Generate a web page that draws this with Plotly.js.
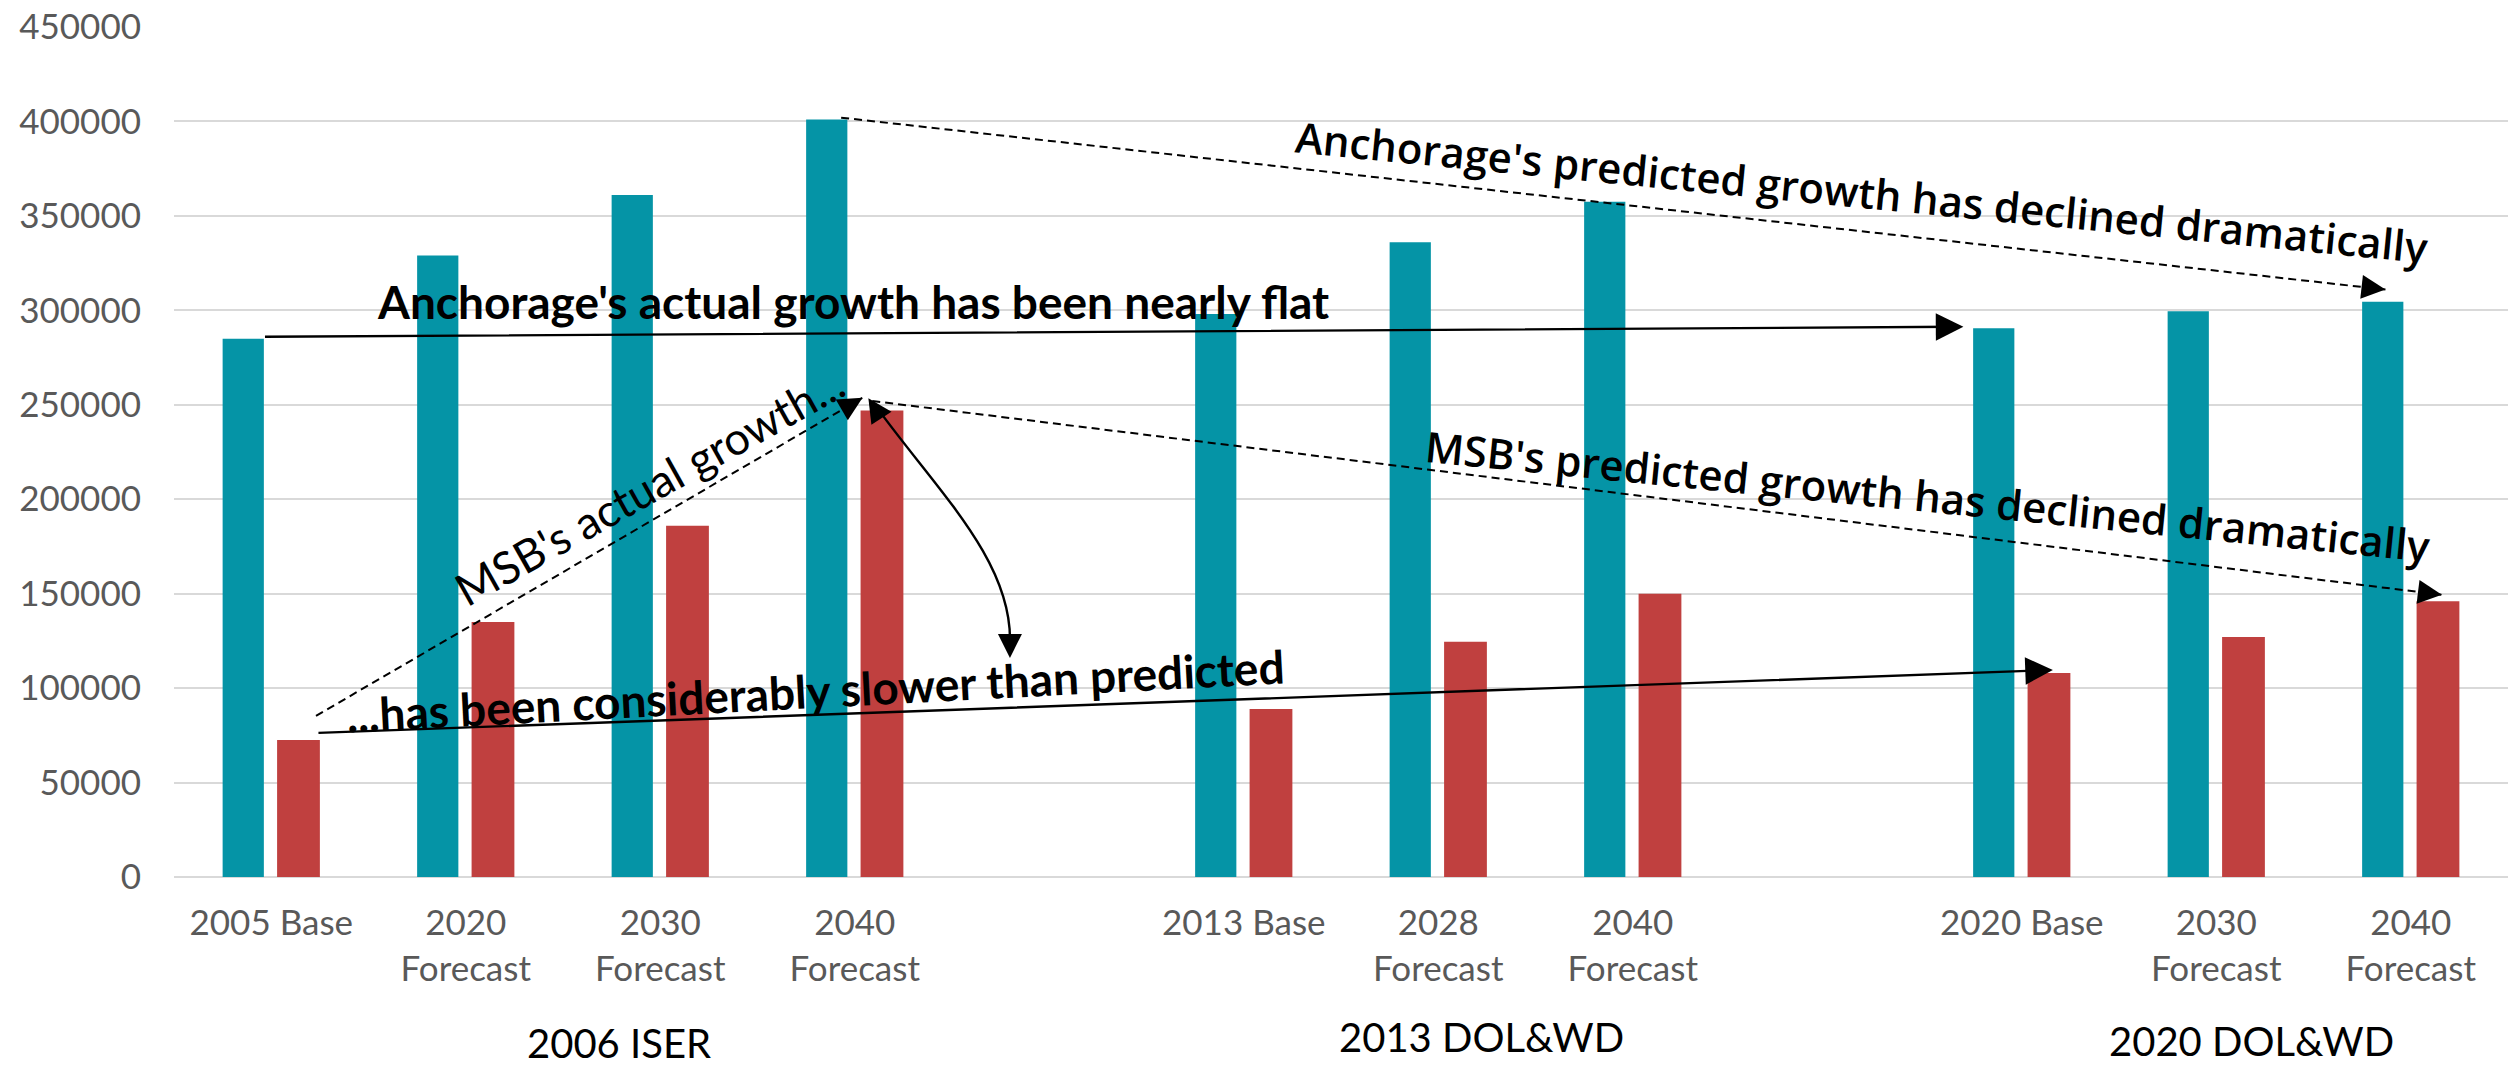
<!DOCTYPE html>
<html><head><meta charset="utf-8">
<script src="https://cdn.plot.ly/plotly-3.0.1.min.js"></script>
<style>html,body{margin:0;padding:0;background:#fff}#chart{width:2509px;height:1067px}</style>
</head><body><div id="chart"></div>
<script>
// ---- data ----
const categories = ["2005 Base","2020<br>Forecast","2030<br>Forecast","2040<br>Forecast",
                    "2013 Base","2028<br>Forecast","2040<br>Forecast",
                    "2020 Base","2030<br>Forecast","2040<br>Forecast"];
const groupIndex = [0,0,0,0,1,1,1,2,2,2];
const groups = ["2006 ISER","2013 DOL&WD","2020 DOL&WD"];
const anchorage = [285000,329000,361000,401000,298000,336000,357500,290500,299500,304500];
const msb = [72500,135000,186000,247000,89000,124500,150000,108000,127000,146000];
const yTickVals = [0,50000,100000,150000,200000,250000,300000,350000,400000,450000];

// slot positions on a linear axis: one empty slot between report groups
const xpos = categories.map((c,i)=> i + groupIndex[i]);

const TEAL = '#0594A6', RED = '#C0403F';
const CAL = 'Lato, "Liberation Sans", sans-serif';
const SEG = '"Open Sans", "DejaVu Sans", sans-serif';

const traces = [
  {type:'bar', name:'Anchorage', x:xpos, y:anchorage, marker:{color:TEAL}, width:0.212, offset:-0.25, hoverinfo:'y'},
  {type:'bar', name:'MSB', x:xpos, y:msb, marker:{color:RED}, width:0.22, offset:0.03, hoverinfo:'y'}
];

// ---- decorations ----
const shapes = [];
const annotations = [];

function arrowHead(x0,y0,x1,y1,frac){
  annotations.push({x:x1,y:y1,xref:'x',yref:'y',axref:'x',ayref:'y',
    ax:x1-(x1-x0)*frac, ay:y1-(y1-y0)*frac, text:'', showarrow:true,
    arrowhead:2, arrowsize:2.4, arrowwidth:2, arrowcolor:'#000'});
}
function dashedArrow(x0,y0,x1,y1,frac){
  shapes.push({type:'line',xref:'x',yref:'y',x0:x0,y0:y0,x1:x1,y1:y1,
    line:{color:'#000',width:2,dash:'8px,5px'}});
  arrowHead(x0,y0,x1,y1,frac);
}
function solidArrow(x0,y0,x1,y1){
  annotations.push({x:x1,y:y1,xref:'x',yref:'y',axref:'x',ayref:'y',
    ax:x0, ay:y0, text:'', showarrow:true,
    arrowhead:2, arrowsize:2.3, arrowwidth:2.4, arrowcolor:'#000'});
}
function label(text,x,y,angle,font){
  annotations.push({x:x,y:y,xref:'x',yref:'y',text:text,showarrow:false,
    textangle:angle,font:font,xanchor:'center',yanchor:'middle'});
}

// Anchorage actual (solid)
solidArrow(-0.04, 286000, 8.70, 291300);
// Anchorage predicted (dashed)
dashedArrow(2.93, 402000, 10.87, 311000, 0.014);
// MSB predicted (dashed)
dashedArrow(3.09, 252000, 11.16, 149400, 0.014);
// MSB actual (dashed)
dashedArrow(0.23, 85300, 3.04, 253700, 0.035);
// considerably slower (solid)
solidArrow(0.235, 76300, 9.16, 109600);
// curved double arrow
shapes.push({type:'path',xref:'x',yref:'y',
  path:'M3.10,250500 C3.41,206000 3.81,168000 3.798,124000',
  line:{color:'#000',width:2.4}});
annotations.push({x:3.798,y:116000,xref:'x',yref:'y',axref:'x',ayref:'y',ax:3.798,ay:128000,
  text:'',showarrow:true,arrowhead:2,arrowsize:2.4,arrowwidth:2,arrowcolor:'#000'});
annotations.push({x:3.07,y:253500,xref:'x',yref:'y',axref:'x',ayref:'y',ax:3.13,ay:244000,
  text:'',showarrow:true,arrowhead:2,arrowsize:2.4,arrowwidth:2,arrowcolor:'#000'});

const boldCal = {family:CAL,size:46,color:'#000',weight:'bold'};
label("Anchorage's actual growth has been nearly flat", 2.99, 304500, 0, boldCal);
label("Anchorage's predicted growth has declined dramatically", 8.18, 362800, 5.6, {family:SEG,size:42,color:'#000',weight:600});
label("MSB's predicted growth has declined dramatically", 8.52, 201800, 5.7, {family:SEG,size:42,color:'#000',weight:600});
label("MSB's actual growth...", 1.945, 206800, -29.3, {family:CAL,size:45,color:'#000'});
label("...has been considerably slower than predicted", 2.80, 98500, -3, boldCal);

// group labels under the axis
const groupX = [1.79, 6.22, 10.18];
const groupY = [-0.195, -0.188, -0.2225];
const groupAnchor = ['middle','middle','bottom'];
groups.forEach((g,k)=>annotations.push({x:groupX[k],y:groupY[k],xref:'x',yref:'paper',text:g,
  showarrow:false,xanchor:'center',yanchor:groupAnchor[k],borderpad:0,font:{family:CAL,size:40,color:'#000'}}));

const layout = {
  width:2509, height:1067,
  margin:{l:174,r:1,t:27,b:190},
  paper_bgcolor:'#fff', plot_bgcolor:'#fff',
  showlegend:false, barmode:'overlay',
  xaxis:{type:'linear', range:[-0.5,11.5], tickvals:xpos, ticktext:categories,
    showgrid:false, zeroline:false, showline:false, ticks:'',
    tickfont:{family:CAL,size:35,color:'#595959'}, ticklabelstandoff:22, fixedrange:true},
  yaxis:{range:[0,450000], tickvals:yTickVals, ticktext:yTickVals.map(String),
    showgrid:true, gridcolor:'#D9D9D9', gridwidth:2,
    zeroline:true, zerolinecolor:'#D9D9D9', zerolinewidth:2, showline:false, ticks:'',
    tickfont:{family:CAL,size:35,color:'#595959'}, ticklabelstandoff:32, fixedrange:true},
  shapes:shapes, annotations:annotations
};
Plotly.newPlot('chart', traces, layout, {staticPlot:true, displayModeBar:false});
</script></body></html>
